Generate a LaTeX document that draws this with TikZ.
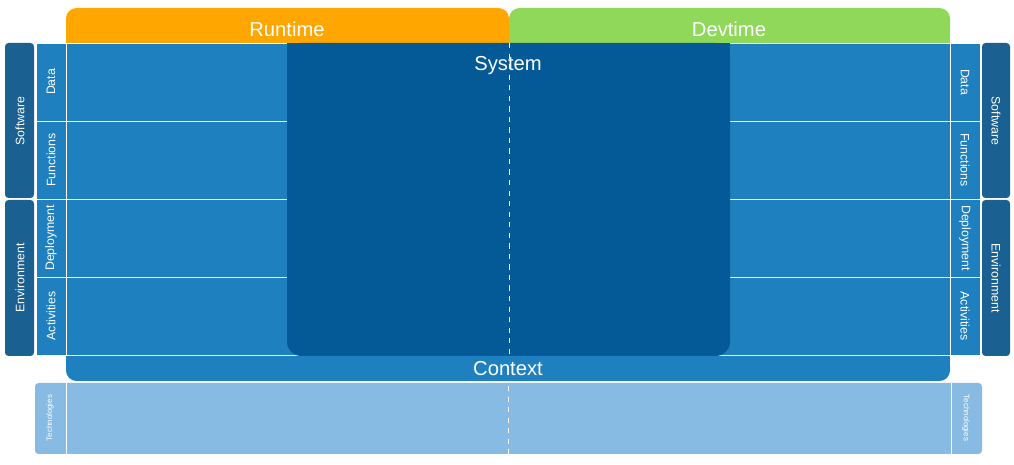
\documentclass[tikz,border=0pt]{standalone}
\usepackage{fontspec}
\setmainfont{Liberation Sans}
\definecolor{midblue}{RGB}{31,128,192}
\definecolor{darkblue}{RGB}{4,90,150}
\definecolor{sideblue}{RGB}{26,96,145}
\definecolor{lightblue}{RGB}{136,187,227}
\definecolor{runorange}{RGB}{255,167,0}
\definecolor{devgreen}{RGB}{143,216,90}
\begin{document}
\begin{tikzpicture}[x=0.02cm,y=-0.02cm,
    cell/.style={fill=midblue,draw=white,line width=0.4pt},
    group/.style={fill=sideblue,rounded corners=2pt},
    lbl/.style={text=white,font=\fontsize{7}{8}\selectfont},
    big/.style={text=white,font=\fontsize{11.5}{13}\selectfont}]
    \useasboundingbox (0,0) rectangle (1014,465);
    % headers
    \fill[runorange,rounded corners=6pt] (66,43) -- (66,8) -- (509,8) -- (509,43) -- cycle;
    \fill[devgreen,rounded corners=6pt] (509,43) -- (509,8) -- (950,8) -- (950,43) -- cycle;
    \fill[runorange] (66,30) rectangle (509,43);
    \fill[devgreen] (509,30) rectangle (950,43);
    \node[big] (runtime) at (287,29) {Runtime};
    \node[big] (devtime) at (729,29) {Devtime};
    % rows
    \foreach \y/\t in {43/Data,121/Functions,199/Deployment,277/Activities}{
        \draw[cell] (66,\y) rectangle (950,\y+78);
        \draw[cell] (36,\y) rectangle (66,\y+78);
        \draw[cell] (950,\y) rectangle (980,\y+78);
        \node[lbl,rotate=90] (l\t) at (51,\y+39) {\t};
        \node[lbl,rotate=-90] (r\t) at (965,\y+39) {\t};
    }
    % groups
    \fill[group] (5,43) rectangle (34,198);
    \fill[group] (5,200) rectangle (34,356);
    \fill[group] (982,43) rectangle (1010,198);
    \fill[group] (982,200) rectangle (1010,356);
    \node[lbl,rotate=90] (lsoft) at (20,121) {Software};
    \node[lbl,rotate=90] (lenv) at (20,278) {Environment};
    \node[lbl,rotate=-90] (rsoft) at (996,121) {Software};
    \node[lbl,rotate=-90] (renv) at (996,278) {Environment};
    % system
    \fill[darkblue,rounded corners=8pt] (287,43) rectangle (730,356);
    \fill[darkblue] (287,43) rectangle (730,60);
    \node[big] (system) at (508,66) {System};
    \draw[white,dashed,line width=0.3pt] (509,43) -- (509,356);
    % context
    \fill[midblue,rounded corners=6pt] (66,356) rectangle (950,381);
    \fill[midblue] (66,356) rectangle (950,366);
    \node[big] (context) at (508,369) {Context};
    % technologies
    \fill[lightblue,rounded corners=2pt] (35,383) rectangle (982,454);
    \draw[white,line width=0.4pt] (66,383) -- (66,454) (951,383) -- (951,454);
    \draw[white,dashed,line width=0.3pt] (508,386) -- (508,454);
    \node[text=white,font=\fontsize{4.5}{5}\selectfont,rotate=90] (ltech) at (50,418) {Technologies};
    \node[text=white,font=\fontsize{4.5}{5}\selectfont,rotate=-90] (rtech) at (966,418) {Technologies};
\end{tikzpicture}
\end{document}
